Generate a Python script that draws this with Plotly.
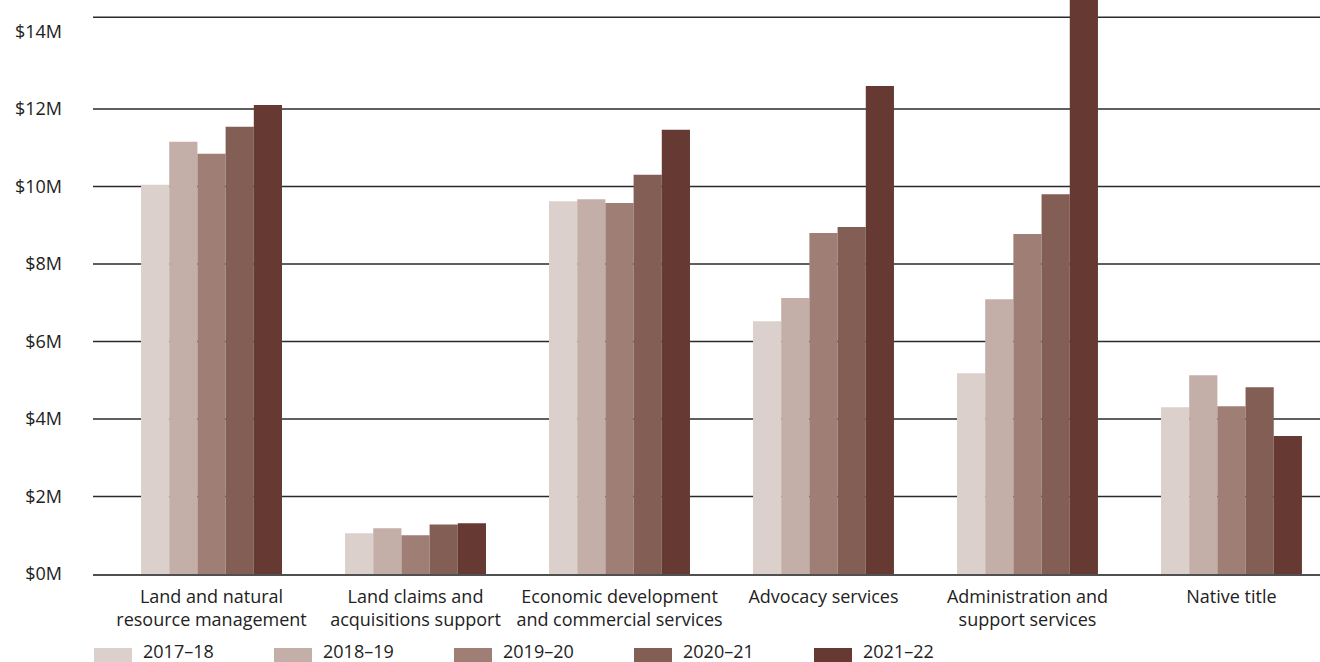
import plotly.graph_objects as go

categories = [
    "Land and natural<br>resource management",
    "Land claims and<br>acquisitions support",
    "Economic development<br>and commercial services",
    "Advocacy services",
    "Administration and<br>support services",
    "Native title",
]
years = ["2017–18", "2018–19", "2019–20", "2020–21", "2021–22"]
colors = ["#DBD0CC", "#C4AFA8", "#9F7E76", "#835E54", "#663A33"]

v2017_18 = [10.04, 1.05, 9.62, 6.52, 5.18, 4.30]
v2018_19 = [11.15, 1.18, 9.67, 7.12, 7.09, 5.13]
v2019_20 = [10.84, 1.00, 9.57, 8.80, 8.77, 4.33]
v2020_21 = [11.54, 1.28, 10.30, 8.95, 9.80, 4.82]
v2021_22 = [12.10, 1.31, 11.46, 12.59, 15.60, 3.56]
series = [v2017_18, v2018_19, v2019_20, v2020_21, v2021_22]

tick_vals = [0, 2, 4, 6, 8, 10, 12, 14]
tick_text = ["$0M", "$2M", "$4M", "$6M", "$8M", "$10M", "$12M", "$14M"]
grid_vals = [2, 4, 6, 8, 10, 12]

FONT = "Open Sans"
fig = go.Figure()
for name, vals, col in zip(years, series, colors):
    fig.add_trace(go.Bar(
        x=categories, y=[v * 1e6 for v in vals], name=name,
        marker=dict(color=col, line=dict(width=0)), showlegend=False,
    ))

shapes = []
for g in grid_vals:
    shapes.append(dict(type="line", xref="paper", yref="y", x0=0, x1=1,
                       y0=g * 1e6, y1=g * 1e6, layer="below",
                       line=dict(color="#2a2a2a", width=1.5)))
# top frame line
shapes.append(dict(type="line", xref="paper", yref="paper", x0=0, x1=1,
                   y0=1 - 17.3 / 574, y1=1 - 17.3 / 574, layer="below",
                   line=dict(color="#2a2a2a", width=1.5)))

# custom legend (wide swatches)
annotations = []
plot_w = 1227.0
plot_h = 574.0
for i, (name, col) in enumerate(zip(years, colors)):
    x0 = (1 + 180 * i) / plot_w
    x1 = (39 + 180 * i) / plot_w
    shapes.append(dict(type="rect", xref="paper", yref="paper",
                       x0=x0, x1=x1, y0=-(648 - plot_h) / plot_h,
                       y1=-(666 - plot_h) / plot_h,
                       fillcolor=col, line=dict(width=0)))
    annotations.append(dict(xref="paper", yref="paper",
                            x=(48 + 180 * i) / plot_w, y=-(651 - plot_h) / plot_h,
                            text=name, showarrow=False, xanchor="left", yanchor="middle",
                            font=dict(family=FONT, size=18, color="#222")))

fig.update_layout(
    width=1320, height=662,
    margin=dict(l=93, r=0, t=0, b=88, pad=0),
    paper_bgcolor="white", plot_bgcolor="white",
    barmode="group", bargap=0.309, bargroupgap=0,
    font=dict(family=FONT, size=18, color="#222"),
    shapes=shapes, annotations=annotations,
    showlegend=False,
)
fig.update_xaxes(
    range=[-0.581, 5.434], showgrid=False, showline=True,
    linecolor="#505050", linewidth=2, ticks="", ticklabelstandoff=5,
    tickfont=dict(family=FONT, size=18, color="#222"),
)
fig.update_yaxes(
    range=[0, 14.81e6], tickvals=[t * 1e6 for t in tick_vals], ticktext=tick_text,
    showgrid=False, zeroline=False, showline=False, ticks="",
    ticklabelstandoff=30, tickfont=dict(family=FONT, size=18, color="#222"),
)
fig.write_html("out.html")
